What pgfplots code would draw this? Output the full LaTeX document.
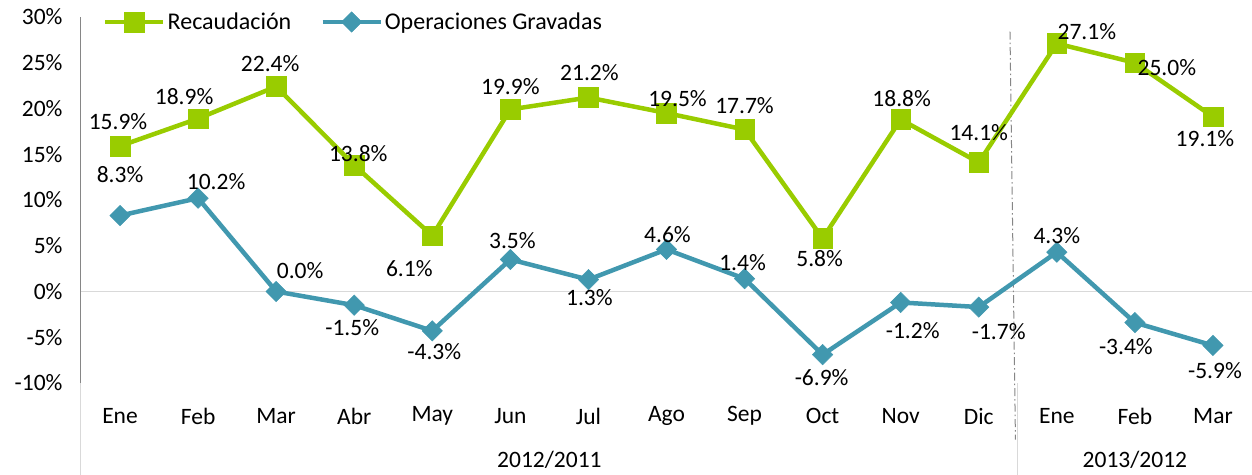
\documentclass[border=0pt]{standalone}
\usepackage{fontspec}
\setmainfont{Carlito}
\usepackage{pgfplots}
\pgfplotsset{compat=1.18}
\usepackage{pgfplotstable}
\definecolor{recgreen}{RGB}{153,204,0}
\definecolor{opblue}{RGB}{65,152,175}
\definecolor{axgray}{RGB}{134,134,134}
\definecolor{sepgray}{RGB}{217,217,217}

\pgfplotstableread{
x y dx dy
0 15.9 -2 24
1 18.9 -14 22
2 22.4 -6 23
3 13.8 4 12
4 6.1 -23 -33
5 19.9 0 23
6 21.2 1 25
7 19.5 11 14
8 17.7 0 24
9 5.8 -3 -20
10 18.8 1 21
11 14.1 0 30
12 27.1 30 12
13 25.0 32 -5
14 19.1 -8 -22
}\rec

\pgfplotstableread{
x y dx dy
0 8.3 0 41
1 10.2 18 17
2 0.0 24 21
3 -1.5 -2 -22
4 -4.3 2 -21
5 3.5 2 19
6 1.3 1 -18
7 4.6 1 15
8 1.4 -2 16
9 -6.9 -1 -23
10 -1.2 12 -28
11 -1.7 20 -25
12 4.3 0 17
13 -3.4 -9 -24
14 -5.9 2 -25
}\oper

\newcommand{\fs}{\fontsize{23.5}{28}\selectfont}

\begin{document}
\begin{tikzpicture}
\begin{axis}[
  scale only axis, width=1171pt, height=366pt,
  xmin=-0.5, xmax=14.5, ymin=-10, ymax=30,
  clip=false,
  axis lines*=left,
  separate axis lines,
  y axis line style={axgray, line width=1pt},
  x axis line style={draw=none},
  major tick length=0pt,
  tick style={draw=none},
  xtick={0,...,14},
  xticklabels={Ene,Feb,Mar,Abr,May,Jun,Jul,Ago,Sep,Oct,Nov,Dic,Ene,Feb,Mar},
  ytick={-10,-5,...,30},
  yticklabel={\pgfmathprintnumber{\tick}\%},
  /pgf/number format/assume math mode=true,
  tick label style={font=\fs},
  xticklabel style={anchor=center, yshift=-33pt},
  yticklabel style={anchor=east, xshift=-15pt},
  point meta=explicit,
  nodes near coords={\pgfmathprintnumber[fixed,fixed zerofill,precision=1]{\pgfplotspointmeta}\%},
  visualization depends on={\thisrow{dx} \as \dx},
  visualization depends on={\thisrow{dy} \as \dy},
  every node near coord/.append style={font=\fs, text=black, anchor=center, xshift={\dx pt}, yshift={\dy pt}},
  legend columns=2,
  legend style={at={(axis description cs:0,1)}, anchor=west, xshift=22pt, yshift=-5pt, draw=none, fill=none, inner sep=0pt, font=\fontsize{24}{28}\selectfont, /tikz/every even column/.append style={column sep=27pt}},
  legend image code/.code={\draw[mark repeat=2,mark phase=2] plot coordinates {(0pt,0pt) (29pt,0pt) (58pt,0pt)};},
]
\draw[sepgray, line width=1pt] (axis cs:-0.5,0) -- (axis cs:14.5,0);
\draw[sepgray, line width=1pt] (axis cs:-0.5,-10) -- (axis cs:-0.5,-20);
\draw[sepgray, line width=1pt] (axis cs:11.5,-10) -- (axis cs:11.5,-20);
\draw[axgray, line width=1pt, dash pattern=on 8pt off 3pt on 1.5pt off 3pt] (axis cs:11.40,28.4) -- (axis cs:11.47,-16.2);

\addplot[recgreen, line width=4.5pt, mark=square*, mark size=9.8pt, mark options={line width=0.5pt, solid}] table[x=x,y=y,meta=y] {\rec};
\addlegendentry{Recaudación}
\addplot[opblue, line width=4.5pt, mark=square*, mark size=7.2pt, mark options={rotate=45, line width=0.5pt, solid}] table[x=x,y=y,meta=y] {\oper};
\addlegendentry{Operaciones Gravadas}

\node[font=\fs, anchor=center] at (axis cs:5.5,-10) [yshift=-77pt] {2012/2011};
\node[font=\fs, anchor=center] at (axis cs:13,-10) [yshift=-77pt] {2013/2012};
\end{axis}
\pgfresetboundingbox
\path (-81pt,-91pt) rectangle (1171pt,383pt);
\end{tikzpicture}
\end{document}
